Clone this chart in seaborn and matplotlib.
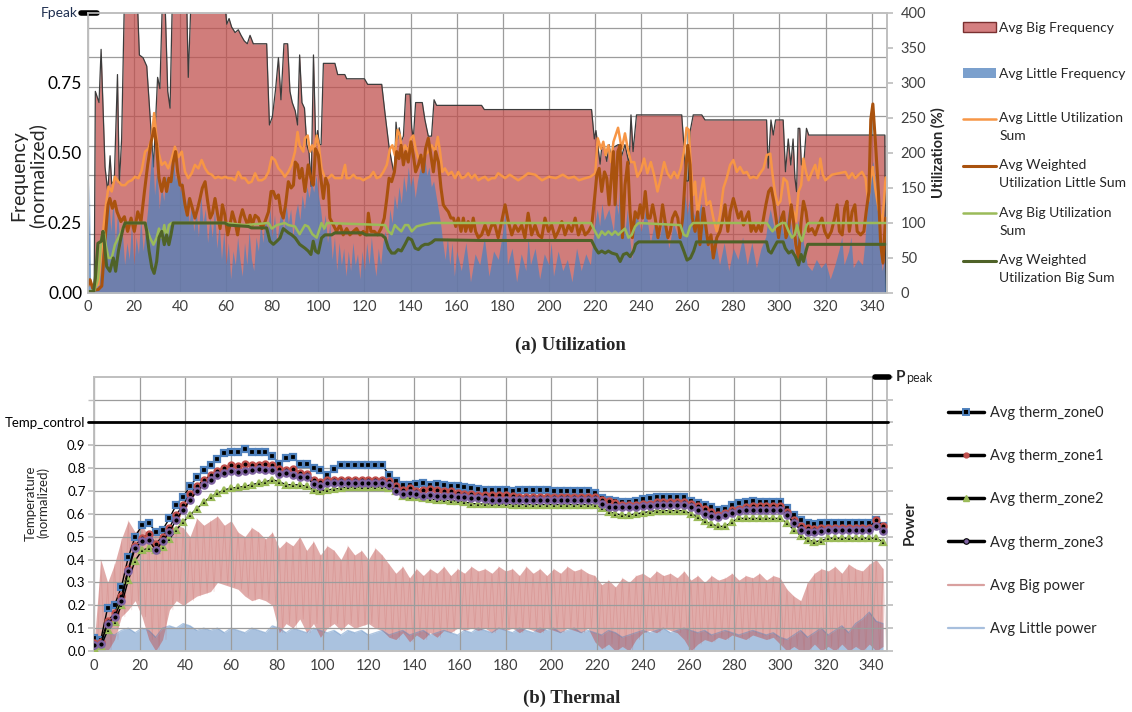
import numpy as np
import matplotlib
matplotlib.use("Agg")
import matplotlib.pyplot as plt
import seaborn as sns
from matplotlib.lines import Line2D
from matplotlib.patches import Patch
from matplotlib.legend_handler import HandlerLine2D

# ---------------------------------------------------------------
# (a) Utilization: frequency areas (left axis) and utilization sums
#     (right axis), sampled at irregular times (s)
# ---------------------------------------------------------------
big_freq_pts = [
    (0, 0), (2.8, 0), (3.3, 0.72), (4.9, 0.68), (5.8, 0.87), (7.5, 0.45), (8.7, 0.36), (9.7, 0.49), (10.4, 0.39), (11.5, 0.40),
    (12.9, 0.78), (13.7, 0.39), (14.7, 0.55), (15.9, 1.05), (21.5, 1.05), (22.4, 0.85), (24, 0.84), (25.6, 0.81), (28.5, 0.45), (30.3, 0.77),
    (31.3, 0.73), (32.4, 1.05), (33.5, 1.05), (34.7, 0.72), (35.7, 0.66), (36.7, 1.05), (42.9, 1.05), (43.6, 0.77), (44.8, 1.05), (59.3, 1.05),
    (60.3, 0.96), (61.3, 0.98), (62.4, 0.95), (63.9, 0.93), (65.3, 0.94), (66.5, 0.92), (67.9, 0.90), (69.2, 0.89), (70.4, 0.92), (71.8, 0.89),
    (77.6, 0.89), (78.8, 0.60), (80.1, 0.63), (81.5, 0.73), (82.7, 0.84), (83.8, 0.69), (85.1, 0.89), (86.7, 0.89), (87.7, 0.72), (88.7, 0.68),
    (90, 0.65), (91, 0.60), (91.9, 0.85), (92.9, 0.68), (94, 0.66), (95, 0.53), (96, 0.50), (96.9, 0.38), (97.9, 0.85), (98.9, 0.53),
    (99.7, 0.58), (100.5, 0.53), (101.2, 0.53), (102.2, 0.82), (107.2, 0.82), (108.4, 0.78), (111.5, 0.78), (112.3, 0.765), (120, 0.765), (121.4, 0.745),
    (127.5, 0.745), (129, 0.636), (130.7, 0.52), (131.8, 0.47), (133, 0.42), (133.7, 0.61), (134.4, 0.55), (135.1, 0.59), (135.9, 0.54), (136.9, 0.56),
    (137.9, 0.71), (139.8, 0.71), (140.5, 0.59), (141.2, 0.55), (142.2, 0.68), (145.1, 0.68), (146.2, 0.62), (147.7, 0.56), (149.1, 0.56), (150.2, 0.69),
    (151.3, 0.67), (170.8, 0.67), (172, 0.655), (218.5, 0.655), (219.7, 0.55), (220.4, 0.58), (221.2, 0.53), (222.2, 0.46), (222.9, 0.52), (223.9, 0.52),
    (225.1, 0.47), (226.1, 0.53), (227, 0.48), (228, 0.52), (230.1, 0.53), (231.6, 0.49), (233, 0.53), (234.8, 0.46), (235.6, 0.636), (236.5, 0.505),
    (238, 0.636), (257.6, 0.636), (258.8, 0.50), (259.5, 0.40), (260.5, 0.40), (261.2, 0.575), (262.6, 0.636), (266.3, 0.636), (267.7, 0.618), (294.4, 0.618),
    (295.1, 0.446), (296.3, 0.618), (297.3, 0.564), (298.3, 0.618), (301.6, 0.618), (302.6, 0.433), (303.8, 0.55), (304.9, 0.457), (305.9, 0.55), (306.7, 0.41),
    (307.4, 0.362), (308.1, 0.588), (308.8, 0.588), (309.5, 0.457), (310.6, 0.47), (311.7, 0.588), (312.7, 0.564), (345.7, 0.564), (346, 0),
]

little_freq_pts = [
    (0, 0), (0.7, 0.40), (1.2, 0.05), (2, 0.02), (4, 0.02), (5, 0.08), (6, 0.15), (7, 0.12), (8, 0.28), (9, 0.35),
    (10, 0.22), (11, 0.33), (12, 0.18), (13, 0.30), (14, 0.15), (15, 0.22), (16, 0.10), (17, 0.18), (18, 0.12), (19, 0.25),
    (20, 0.10), (21, 0.20), (22, 0.14), (23, 0.27), (24, 0.15), (25, 0.22), (26, 0.30), (27, 0.42), (28, 0.52), (29, 0.35),
    (30, 0.45), (31, 0.30), (32, 0.38), (33, 0.33), (34, 0.42), (35, 0.36), (36, 0.45), (37, 0.50), (38, 0.40), (39, 0.44),
    (40, 0.36), (41, 0.40), (42, 0.28), (43, 0.34), (44, 0.25), (45, 0.32), (46, 0.22), (47, 0.30), (48, 0.20), (49, 0.35),
    (50, 0.25), (51, 0.30), (52, 0.18), (53, 0.27), (54, 0.20), (55, 0.30), (56, 0.16), (57, 0.25), (58, 0.12), (59, 0.22),
    (60, 0.10), (61, 0.18), (62, 0.05), (63, 0.15), (64, 0.10), (65, 0.20), (66, 0.12), (67, 0.06), (68, 0.18), (69, 0.10),
    (70, 0.22), (71, 0.12), (72, 0.08), (73, 0.20), (74, 0.15), (75, 0.25), (76, 0.18), (77, 0.28), (78, 0.22), (79, 0.30),
    (80, 0.20), (81, 0.28), (82, 0.18), (83, 0.25), (84, 0.30), (85, 0.22), (86, 0.32), (87, 0.25), (88, 0.30), (89, 0.20),
    (90, 0.28), (91, 0.32), (92, 0.26), (93, 0.35), (94, 0.30), (95, 0.38), (96, 0.34), (97, 0.40), (98, 0.36), (99, 0.42),
    (100, 0.35), (101, 0.30), (102, 0.22), (103, 0.28), (104, 0.18), (105, 0.25), (106, 0.12), (107, 0.20), (108, 0.08), (109, 0.18),
    (110, 0.10), (111, 0.16), (112, 0.06), (113, 0.15), (114, 0.08), (115, 0.18), (116, 0.10), (117, 0.14), (118, 0.05), (119, 0.15),
    (120, 0.08), (121, 0.18), (122, 0.10), (123, 0.20), (124, 0.12), (125, 0.06), (126, 0.16), (127, 0.10), (128, 0.18), (129, 0.22),
    (130, 0.18), (131, 0.30), (132, 0.25), (133, 0.35), (134, 0.30), (135, 0.38), (136, 0.32), (137, 0.42), (138, 0.36), (139, 0.45),
    (140, 0.38), (141, 0.42), (142, 0.34), (143, 0.40), (144, 0.44), (145, 0.46), (146, 0.50), (147, 0.42), (148, 0.45), (149, 0.38),
    (150, 0.40), (151, 0.35), (152, 0.30), (153, 0.25), (154, 0.18), (155, 0.12), (156, 0.20), (157, 0.10), (158, 0.18), (159, 0.06),
    (160, 0.15), (162, 0.08), (164, 0.18), (166, 0.04), (168, 0.14), (170, 0.10), (172, 0.20), (174, 0.06), (176, 0.15), (178, 0.12),
    (180, 0.22), (181, 0.29), (182, 0.10), (184, 0.16), (186, 0.04), (188, 0.14), (190, 0.08), (191, 0.20), (192, 0.10), (194, 0.16),
    (196, 0.05), (198, 0.14), (200, 0.10), (201, 0.18), (202, 0.06), (204, 0.15), (206, 0.08), (208, 0.12), (210, 0.04), (212, 0.16),
    (214, 0.08), (216, 0.14), (218, 0.10), (219, 0.18), (220, 0.25), (221, 0.30), (222, 0.24), (223, 0.32), (224, 0.26), (226, 0.30),
    (228, 0.22), (229, 0.34), (230, 0.28), (231, 0.42), (232, 0.30), (233, 0.22), (234, 0.30), (235, 0.20), (236, 0.12), (237, 0.25),
    (238, 0.28), (240, 0.22), (242, 0.30), (244, 0.18), (246, 0.26), (248, 0.20), (250, 0.28), (252, 0.16), (254, 0.25), (256, 0.20),
    (258, 0.30), (259, 0.35), (260, 0.28), (261, 0.34), (262, 0.30), (264, 0.26), (266, 0.32), (268, 0.22), (270, 0.15), (272, 0.20),
    (274, 0.10), (276, 0.18), (278, 0.08), (280, 0.16), (282, 0.12), (284, 0.20), (286, 0.10), (288, 0.18), (290, 0.09), (292, 0.16),
    (294, 0.20), (295, 0.26), (296, 0.30), (298, 0.22), (300, 0.28), (302, 0.20), (304, 0.30), (306, 0.18), (307, 0.12), (308, 0.26),
    (310, 0.20), (311, 0.15), (312, 0.10), (314, 0.08), (316, 0.12), (318, 0.09), (320, 0.11), (322, 0.05), (324, 0.10), (326, 0.16),
    (327, 0.20), (328, 0.10), (330, 0.15), (331, 0.20), (332, 0.09), (334, 0.12), (336, 0.10), (337, 0.18), (338, 0.30), (339, 0.40),
    (340.5, 0.47), (341.5, 0.42), (342.5, 0.30), (343.5, 0.15), (344.5, 0.08), (345.5, 0.12), (346, 0),
]

little_util_pts = [
    (0, 10), (1, 16), (2.4, 7), (4.6, 12), (7.5, 116), (9, 152), (10.4, 145), (11.8, 166), (13.3, 159), (14.7, 154),
    (16.2, 154), (17.6, 159), (19.1, 161), (20.5, 166), (22, 164), (23.4, 175), (24.9, 202), (26.3, 206), (27.8, 221), (28.8, 257),
    (29.6, 230), (30.6, 202), (32.1, 183), (33.5, 187), (34.9, 178), (36.4, 192), (37.8, 209), (39.3, 194), (40.8, 202), (42.2, 173),
    (43.6, 164), (45.1, 171), (46.5, 183), (48, 178), (49.4, 190), (50.9, 178), (52.3, 171), (53.8, 169), (55.2, 164), (56.6, 166),
    (58.1, 164), (59.5, 166), (61, 164), (62.4, 164), (63.9, 161), (65.3, 173), (66.8, 164), (68.2, 164), (69.7, 157), (71.1, 159),
    (72.6, 171), (74, 161), (75.5, 161), (76.9, 164), (78.4, 173), (79.8, 194), (81.2, 190), (82.7, 178), (84.1, 173), (85.5, 166),
    (87, 173), (88.4, 183), (89.9, 202), (91, 230), (91.9, 211), (93.5, 202), (94.2, 221), (95.4, 225), (96.4, 202), (97.4, 211),
    (98.2, 202), (99.3, 225), (100.2, 211), (101.4, 178), (102.9, 164), (104.3, 164), (105.8, 169), (107.2, 164), (108.7, 164), (110.1, 164),
    (111.6, 183), (112.3, 164), (113.7, 164), (115.2, 169), (116.6, 164), (118.1, 164), (119.5, 161), (121, 164), (122.4, 166), (123.9, 173),
    (125.3, 164), (126.8, 166), (128.2, 173), (129.7, 183), (131.1, 206), (132.1, 211), (133.2, 197), (134.4, 233), (135.4, 225), (136.4, 202),
    (137.6, 211), (139, 202), (140.2, 221), (141.2, 225), (142.2, 206), (143.4, 192), (144.8, 192), (146.2, 197), (147.7, 202), (149.1, 211),
    (150.6, 202), (151.8, 223), (152.8, 202), (153.8, 173), (154.9, 178), (156.4, 169), (157.8, 173), (159.3, 164), (160.7, 173), (162.2, 164),
    (163.6, 166), (165, 171), (166.5, 164), (167.9, 169), (169.4, 161), (170.8, 164), (172.3, 166), (173.7, 161), (175.2, 164), (176.6, 164),
    (178, 171), (181, 164), (183, 169), (186.7, 161), (189, 166), (191, 171), (194, 169), (197, 161), (200, 166), (203, 164),
    (206, 169), (208.5, 164), (211, 166), (213, 161), (215.8, 164), (218, 166), (220.1, 171), (221.2, 221), (222.6, 206), (223.6, 216),
    (224.6, 197), (225.8, 211), (227, 187), (228, 216), (230, 236), (231.6, 206), (233, 228), (234.2, 206), (235.6, 187), (237, 187),
    (238.4, 166), (239.9, 175), (241.3, 192), (242.7, 171), (244.2, 187), (245.6, 169), (247.1, 145), (248.5, 164), (250, 187), (251.4, 171),
    (252.9, 164), (254.3, 173), (255.8, 164), (257.2, 178), (258.6, 202), (259.7, 236), (260.7, 233), (261.6, 178), (262.6, 140), (263.4, 159),
    (264.5, 111), (265.5, 135), (267, 164), (268.4, 126), (269.9, 131), (271.3, 107), (272.8, 88), (274.2, 111), (275.7, 150), (277.1, 164),
    (278.6, 183), (280, 190), (281.5, 173), (282.9, 180), (284.4, 171), (285.8, 173), (287.3, 164), (288.7, 166), (290.2, 164), (291.6, 171),
    (293.1, 178), (294.5, 197), (296, 199), (297, 169), (298.2, 140), (299.3, 126), (300.4, 131), (301.8, 164), (303.3, 159), (304.7, 126),
    (306.1, 116), (307.1, 102), (308.3, 145), (309.4, 154), (310.4, 192), (311.5, 173), (312.6, 161), (314.1, 173), (315.5, 183), (316.7, 164),
    (317.7, 192), (318.8, 169), (319.9, 161), (322.8, 169), (325.7, 171), (328.6, 173), (330, 164), (331.5, 171), (332.9, 164), (334.4, 169),
    (335.8, 173), (337.3, 164), (338.5, 131), (339.5, 164), (340.5, 180), (341.5, 150), (343, 120), (344.5, 100), (345.3, 130), (346, 165),
]

weighted_little_util_pts = [
    (0, 10), (1, 19), (2.4, 4), (4.6, 5), (6.1, 10), (7.6, 79), (8.8, 126), (9.6, 135), (10.7, 121), (11.7, 131),
    (12.7, 116), (13.3, 111), (14.4, 102), (15.9, 109), (17.3, 88), (18.8, 107), (20.2, 88), (21.7, 116), (23.1, 102), (24.6, 145),
    (26, 183), (27.5, 216), (28.8, 235), (29.9, 211), (30.9, 164), (32.1, 145), (33.2, 164), (34.2, 145), (35.2, 164), (36.1, 159),
    (37.1, 187), (38.1, 202), (39, 173), (40, 154), (41, 154), (42.2, 126), (43.2, 111), (44.2, 135), (45.4, 121), (46.5, 107),
    (47.7, 121), (48.7, 135), (49.7, 150), (50.9, 159), (52, 131), (53.1, 107), (54.1, 114), (55.2, 135), (56.4, 111), (57.4, 92),
    (58.4, 126), (59.5, 111), (60.7, 83), (61.7, 97), (62.7, 116), (63.9, 102), (65, 83), (66.1, 107), (67.1, 119), (68.2, 107),
    (69.4, 97), (70.4, 111), (71.4, 97), (72.6, 111), (74, 107), (75.5, 92), (76.9, 102), (78.4, 116), (79.5, 145), (80.5, 145),
    (81.6, 135), (82.7, 140), (83.8, 116), (84.8, 107), (85.8, 126), (87, 159), (88.2, 150), (89.2, 154), (90, 187), (91, 183),
    (91.9, 164), (92.9, 178), (94.2, 145), (95.6, 183), (96.8, 164), (97.8, 154), (98.8, 206), (100, 197), (101.1, 164), (102.2, 135),
    (103.2, 164), (104.3, 154), (105, 107), (106.5, 97), (107.9, 88), (109.4, 97), (110.8, 83), (112.3, 92), (113.7, 83), (115.2, 88),
    (116.6, 92), (118.1, 83), (119.5, 88), (121, 83), (121.7, 114), (122.8, 88), (124.3, 88), (125.7, 83), (127.2, 92), (128.6, 107),
    (129.7, 135), (130.7, 164), (131.8, 159), (133, 173), (134, 202), (135, 192), (135.9, 211), (136.9, 183), (137.9, 202), (139, 187),
    (140.2, 216), (141.2, 197), (142.2, 173), (143.4, 183), (144.5, 197), (145.5, 173), (146.5, 206), (147.7, 221), (148.8, 197), (149.9, 173),
    (150.9, 202), (152.1, 187), (153.2, 150), (154.2, 126), (155.2, 121), (156.4, 116), (157.5, 107), (158.6, 107), (159.6, 95), (160.7, 107),
    (161.9, 88), (162.9, 107), (163.9, 88), (165, 102), (166.2, 88), (167.2, 107), (168.2, 88), (169.4, 79), (170.8, 83), (172.3, 97),
    (173.7, 83), (175.2, 97), (176.6, 97), (178, 79), (179.5, 102), (181, 126), (182.4, 102), (183.9, 83), (185.3, 97), (186.7, 88),
    (188.2, 97), (189.6, 79), (191, 114), (192.5, 83), (194, 97), (195.4, 83), (196.9, 79), (198.3, 107), (199.8, 88), (201.2, 97),
    (202.7, 79), (204.1, 88), (205.6, 102), (207, 83), (208.5, 97), (209.9, 88), (211.4, 107), (212.8, 83), (214.3, 97), (215.7, 83),
    (217.2, 88), (218.6, 97), (219.8, 135), (220.8, 169), (221.8, 178), (222.9, 145), (224.1, 173), (225.1, 164), (226.1, 126), (227.3, 173),
    (228, 202), (228.7, 126), (229.9, 202), (230.9, 211), (231.9, 79), (233, 154), (234.2, 187), (235.2, 116), (236.2, 79), (237.4, 116),
    (238.6, 107), (239.6, 126), (240.6, 107), (241.8, 145), (242.9, 107), (243.9, 107), (245, 126), (246.1, 107), (247.3, 79), (248.3, 97),
    (249.3, 126), (250.4, 102), (251.6, 79), (252.6, 88), (253.6, 107), (254.8, 116), (255.9, 107), (256.9, 79), (258, 107), (259.1, 164),
    (260.2, 211), (261.2, 183), (262.2, 107), (263.4, 88), (264.5, 116), (265.5, 69), (267, 121), (268, 97), (269.1, 69), (270.3, 83),
    (271.3, 50), (272.8, 79), (274.2, 88), (275.2, 102), (276.4, 126), (277.6, 88), (278.6, 116), (280, 135), (281.1, 121), (282.2, 107),
    (283.4, 116), (284.4, 97), (285.4, 107), (286.6, 116), (287.7, 88), (288.7, 97), (289.8, 88), (290.9, 97), (292.1, 88), (293.1, 107),
    (294.1, 126), (295.3, 145), (296.4, 150), (297.5, 131), (298.5, 107), (299.6, 79), (300.8, 107), (301.8, 116), (302.8, 79), (304, 92),
    (305.1, 126), (306.1, 102), (307.1, 69), (308.3, 50), (309.4, 102), (310.4, 131), (311.5, 116), (312.6, 88), (314.1, 92), (315.5, 83),
    (317, 97), (318.4, 107), (319.6, 88), (321, 79), (322.5, 88), (323.9, 107), (325, 126), (326, 88), (327.2, 83), (328.3, 121),
    (329.3, 131), (330.3, 88), (331.5, 116), (332.7, 126), (333.7, 88), (335.2, 83), (336.6, 88), (337.6, 116), (338.8, 145), (339.6, 248),
    (340.5, 270), (341.7, 211), (342.9, 145), (343.9, 69), (344.9, 43), (346, 107),
]

big_util_pts = [
    (0, 2), (3, 4), (4.5, 21), (5.9, 79), (7, 88), (7.8, 69), (9, 50), (10.4, 50), (11.8, 69), (13.3, 79),
    (14.7, 88), (16.2, 100), (24.9, 100), (25.6, 92), (27, 79), (28.5, 69), (29.9, 79), (30.9, 92), (32.1, 79), (33.2, 97),
    (34.2, 79), (35.2, 97), (36.4, 100), (59.5, 100), (68.2, 97), (78.4, 100), (79.8, 92), (82, 97), (85.5, 100), (87, 97),
    (89.9, 95), (91.9, 84), (94.2, 97), (95.6, 95), (97.4, 84), (99.3, 79), (100.2, 88), (101.4, 100), (102.6, 92), (103.7, 100),
    (129, 97), (130.4, 88), (131.8, 84), (133.2, 97), (134.6, 92), (136, 88), (137.6, 97), (139, 97), (140.5, 88), (142.6, 95),
    (144.8, 97), (149.1, 100), (218.2, 100), (219.7, 90), (221.5, 79), (222.9, 88), (224.4, 83), (225.8, 88), (227.3, 83), (228.7, 88),
    (230.1, 83), (231.6, 88), (233, 92), (234.5, 79), (235.9, 83), (237.4, 95), (238.9, 100), (257, 97), (258.5, 83), (259.9, 81),
    (261.2, 95), (262.6, 100), (294.5, 100), (296, 92), (297, 88), (298.5, 95), (301, 100), (302.5, 100), (304, 88), (305.4, 79),
    (306.6, 83), (307.6, 97), (308.6, 83), (309.7, 74), (310.9, 88), (311.8, 97), (312.6, 100), (346, 100),
]

weighted_big_util_pts = [
    (0, 2), (2.5, 2), (3.3, 21), (4.4, 71), (5.9, 74), (6.6, 88), (7.2, 71), (8.2, 38), (9.6, 31), (11.1, 50),
    (12.1, 31), (13.3, 60), (14.4, 79), (15.4, 93), (16.2, 100), (24.9, 100), (25.6, 88), (26.6, 60), (27.8, 36), (28.8, 28),
    (29.9, 45), (30.9, 79), (32.1, 88), (33.2, 69), (34.2, 83), (35.2, 69), (36.1, 83), (37, 100), (59.5, 100), (61, 97),
    (69.7, 95), (71, 93), (77.6, 93), (79, 74), (80.5, 69.5), (82, 74), (83.4, 78.6), (84.8, 92), (87, 86), (88.5, 83),
    (90, 78.6), (91.9, 69.5), (94.2, 64), (95.6, 60), (96.8, 55), (97.8, 74), (98.8, 60), (100, 57), (101.4, 78.6), (102.9, 83),
    (105.8, 83), (107.2, 86), (119, 86), (120.5, 83), (127.5, 83), (129, 78.6), (130.4, 64), (131.8, 57), (133.2, 57), (134.6, 62),
    (136, 60), (137.6, 69.5), (139, 78.6), (140.5, 76), (142, 64), (143.4, 62), (144.8, 67), (146.2, 69.5), (147.7, 69.5), (149.1, 72),
    (150.6, 76), (170.8, 75), (218.5, 75), (220.1, 64), (221.5, 57), (222.9, 60), (224.4, 57), (225.8, 60), (227.3, 57), (229.4, 55),
    (230.9, 45), (232.3, 55), (233.8, 57), (235.2, 52), (236.7, 60), (237.6, 69.5), (238.9, 73), (257, 73), (258.5, 60), (259.9, 47),
    (261.4, 50), (262.8, 60), (264, 73), (294.4, 73), (295.3, 60), (296.4, 57), (297.5, 64), (299, 73), (301.6, 73), (302.5, 64),
    (304, 57), (305.4, 60), (306.9, 52), (308.3, 40), (309.4, 55), (310.4, 45), (311.5, 60), (312.3, 69.5), (346, 69.5),
]

# ---------------------------------------------------------------
# (b) Thermal: normalized zone temperatures and power, every 3 s
# ---------------------------------------------------------------
thermal_t = np.arange(0, 346, 3)

zone0 = [
    0.055, 0.05, 0.19, 0.20, 0.28, 0.41, 0.50, 0.55, 0.56, 0.52,
    0.53, 0.58, 0.64, 0.675, 0.72, 0.76, 0.79, 0.815, 0.838, 0.865,
    0.87, 0.87, 0.885, 0.872, 0.872, 0.872, 0.852, 0.82, 0.843, 0.85,
    0.82, 0.82, 0.80, 0.79, 0.77, 0.795, 0.812, 0.815, 0.815, 0.815,
    0.815, 0.815, 0.815, 0.77, 0.745, 0.728, 0.727, 0.73, 0.733, 0.728,
    0.73, 0.727, 0.72, 0.72, 0.716, 0.712, 0.71, 0.706, 0.705, 0.705,
    0.705, 0.70, 0.705, 0.705, 0.705, 0.705, 0.705, 0.70, 0.70, 0.70,
    0.70, 0.70, 0.70, 0.692, 0.67, 0.66, 0.655, 0.65, 0.652, 0.658,
    0.665, 0.668, 0.675, 0.675, 0.675, 0.675, 0.675, 0.658, 0.648, 0.637,
    0.628, 0.618, 0.62, 0.64, 0.648, 0.653, 0.655, 0.653, 0.653, 0.65,
    0.65, 0.625, 0.595, 0.572, 0.56, 0.557, 0.56, 0.56, 0.56, 0.56,
    0.56, 0.56, 0.56, 0.56, 0.575, 0.545,
]
zone1 = [
    0.034, 0.04, 0.13, 0.165, 0.24, 0.36, 0.46, 0.495, 0.51, 0.47,
    0.50, 0.54, 0.595, 0.64, 0.685, 0.72, 0.75, 0.768, 0.787, 0.80,
    0.812, 0.81, 0.818, 0.815, 0.815, 0.818, 0.815, 0.795, 0.79, 0.798,
    0.78, 0.775, 0.75, 0.74, 0.748, 0.75, 0.75, 0.75, 0.75, 0.75,
    0.75, 0.75, 0.75, 0.743, 0.72, 0.705, 0.712, 0.70, 0.703, 0.71,
    0.705, 0.70, 0.70, 0.69, 0.688, 0.685, 0.684, 0.683, 0.683, 0.683,
    0.683, 0.68, 0.675, 0.675, 0.675, 0.675, 0.675, 0.675, 0.675, 0.675,
    0.675, 0.675, 0.675, 0.675, 0.662, 0.655, 0.648, 0.64, 0.637, 0.638,
    0.642, 0.645, 0.65, 0.653, 0.653, 0.653, 0.653, 0.645, 0.633, 0.62,
    0.61, 0.597, 0.605, 0.617, 0.622, 0.63, 0.635, 0.635, 0.635, 0.635,
    0.635, 0.61, 0.575, 0.548, 0.537, 0.532, 0.537, 0.54, 0.54, 0.54,
    0.54, 0.54, 0.54, 0.54, 0.575, 0.545,
]
zone2 = [
    0.012, 0.02, 0.09, 0.125, 0.20, 0.31, 0.395, 0.44, 0.45, 0.44,
    0.455, 0.49, 0.53, 0.565, 0.595, 0.623, 0.65, 0.675, 0.69, 0.705,
    0.712, 0.716, 0.72, 0.728, 0.734, 0.74, 0.75, 0.74, 0.728, 0.727,
    0.727, 0.72, 0.705, 0.70, 0.705, 0.708, 0.712, 0.717, 0.717, 0.717,
    0.717, 0.717, 0.717, 0.712, 0.70, 0.68, 0.675, 0.672, 0.67, 0.665,
    0.66, 0.66, 0.658, 0.655, 0.652, 0.645, 0.643, 0.643, 0.643, 0.643,
    0.643, 0.64, 0.64, 0.64, 0.64, 0.64, 0.64, 0.64, 0.64, 0.64,
    0.64, 0.64, 0.64, 0.638, 0.625, 0.61, 0.60, 0.595, 0.595, 0.60,
    0.605, 0.61, 0.614, 0.614, 0.614, 0.614, 0.614, 0.60, 0.585, 0.568,
    0.555, 0.545, 0.545, 0.565, 0.58, 0.58, 0.58, 0.58, 0.58, 0.58,
    0.58, 0.56, 0.53, 0.505, 0.486, 0.478, 0.483, 0.493, 0.493, 0.493,
    0.493, 0.493, 0.493, 0.493, 0.493, 0.478,
]
zone3 = [
    0.025, 0.03, 0.12, 0.15, 0.22, 0.35, 0.45, 0.48, 0.485, 0.44,
    0.48, 0.52, 0.575, 0.617, 0.66, 0.70, 0.725, 0.75, 0.77, 0.78,
    0.788, 0.785, 0.787, 0.792, 0.795, 0.792, 0.79, 0.775, 0.777, 0.77,
    0.763, 0.76, 0.73, 0.723, 0.735, 0.733, 0.733, 0.733, 0.733, 0.733,
    0.733, 0.733, 0.733, 0.725, 0.70, 0.685, 0.69, 0.685, 0.68, 0.683,
    0.678, 0.68, 0.678, 0.675, 0.672, 0.67, 0.668, 0.665, 0.66, 0.66,
    0.66, 0.66, 0.66, 0.66, 0.66, 0.66, 0.66, 0.66, 0.66, 0.66,
    0.66, 0.66, 0.66, 0.66, 0.645, 0.63, 0.63, 0.63, 0.63, 0.632,
    0.633, 0.635, 0.638, 0.638, 0.638, 0.638, 0.638, 0.63, 0.615, 0.60,
    0.59, 0.585, 0.595, 0.605, 0.612, 0.617, 0.617, 0.617, 0.617, 0.617,
    0.617, 0.595, 0.56, 0.53, 0.522, 0.52, 0.525, 0.53, 0.53, 0.53,
    0.53, 0.53, 0.53, 0.53, 0.545, 0.525,
]

# power swings quickly: per 3 s window, its peak and the trough 1.5 s later
big_power_peak = [
    0.02, 0.40, 0.30, 0.38, 0.49, 0.57, 0.52, 0.55, 0.50, 0.52,
    0.48, 0.52, 0.55, 0.54, 0.50, 0.58, 0.55, 0.57, 0.59, 0.55,
    0.57, 0.52, 0.50, 0.54, 0.52, 0.49, 0.52, 0.45, 0.48, 0.46,
    0.50, 0.44, 0.48, 0.42, 0.46, 0.44, 0.40, 0.46, 0.42, 0.44,
    0.40, 0.45, 0.42, 0.38, 0.34, 0.37, 0.32, 0.36, 0.33, 0.36,
    0.34, 0.37, 0.33, 0.36, 0.34, 0.37, 0.35, 0.36, 0.34, 0.37,
    0.35, 0.36, 0.33, 0.37, 0.34, 0.36, 0.33, 0.36, 0.34, 0.37,
    0.35, 0.36, 0.34, 0.33, 0.29, 0.31, 0.28, 0.32, 0.30, 0.33,
    0.34, 0.32, 0.35, 0.33, 0.34, 0.32, 0.35, 0.31, 0.33, 0.30,
    0.33, 0.31, 0.32, 0.34, 0.31, 0.33, 0.32, 0.34, 0.31, 0.33,
    0.32, 0.27, 0.24, 0.22, 0.30, 0.34, 0.36, 0.35, 0.37, 0.34,
    0.38, 0.36, 0.35, 0.38, 0.40, 0.36,
]
big_power_trough = [
    0.0, 0.0, 0.0, 0.05, 0.15, 0.18, 0.22, 0.15, 0.05, 0.0,
    0.05, 0.18, 0.22, 0.20, 0.22, 0.24, 0.25, 0.26, 0.30, 0.29,
    0.28, 0.27, 0.24, 0.22, 0.23, 0.22, 0.20, 0.08, 0.12, 0.10,
    0.14, 0.08, 0.12, 0.06, 0.10, 0.12, 0.09, 0.12, 0.10, 0.11,
    0.12, 0.10, 0.09, 0.06, 0.05, 0.08, 0.04, 0.07, 0.05, 0.08,
    0.06, 0.09, 0.08, 0.10, 0.09, 0.10, 0.09, 0.10, 0.08, 0.10,
    0.09, 0.10, 0.08, 0.10, 0.09, 0.08, 0.10, 0.09, 0.08, 0.10,
    0.09, 0.08, 0.10, 0.04, 0.01, 0.03, 0.0, 0.02, 0.0, 0.05,
    0.08, 0.09, 0.08, 0.10, 0.09, 0.08, 0.05, 0.0, 0.03, 0.05,
    0.04, 0.06, 0.05, 0.07, 0.06, 0.05, 0.07, 0.06, 0.05, 0.06,
    0.03, 0.0, 0.02, 0.0, 0.0, 0.03, 0.0, 0.02, 0.0, 0.03,
    0.0, 0.02, 0.0, 0.03, 0.0, 0.02,
]
little_power_peak = [
    0.02, 0.04, 0.08, 0.07, 0.09, 0.10, 0.08, 0.10, 0.09, 0.06,
    0.10, 0.11, 0.10, 0.12, 0.11, 0.09, 0.10, 0.09, 0.10, 0.08,
    0.10, 0.09, 0.08, 0.10, 0.09, 0.08, 0.11, 0.10, 0.08, 0.10,
    0.09, 0.08, 0.10, 0.09, 0.08, 0.09, 0.07, 0.09, 0.08, 0.09,
    0.07, 0.08, 0.09, 0.07, 0.08, 0.09, 0.07, 0.08, 0.09, 0.07,
    0.08, 0.09, 0.08, 0.07, 0.09, 0.08, 0.10, 0.09, 0.08, 0.10,
    0.09, 0.08, 0.10, 0.09, 0.08, 0.10, 0.09, 0.10, 0.08, 0.09,
    0.10, 0.08, 0.09, 0.08, 0.07, 0.09, 0.08, 0.06, 0.07, 0.08,
    0.09, 0.08, 0.09, 0.10, 0.08, 0.09, 0.10, 0.09, 0.08, 0.09,
    0.07, 0.08, 0.09, 0.08, 0.07, 0.08, 0.09, 0.08, 0.07, 0.08,
    0.06, 0.05, 0.07, 0.09, 0.06, 0.08, 0.10, 0.07, 0.09, 0.11,
    0.08, 0.12, 0.14, 0.17, 0.13, 0.12,
]

x_ticks = list(range(0, 341, 20))
freq_ticks = [0, 0.25, 0.5, 0.75]
util_ticks = list(range(0, 401, 50))
temp_ticks = [0.0, 0.1, 0.2, 0.3, 0.4, 0.5, 0.6, 0.7, 0.8, 0.9, 1.0]
temp_labels = ["0.0", "0.1", "0.2", "0.3", "0.4", "0.5", "0.6", "0.7", "0.8", "0.9", "Temp_control"]

# ---------------------------------------------------------------
# style
# ---------------------------------------------------------------
sns.set_theme(style="white")
plt.rcParams["font.family"] = ["Lato", "DejaVu Sans"]

RED = "#C0504D"
BLUE = "#4F81BD"
ORANGE = "#F79646"
BROWN = "#A9520E"
LGREEN = "#9BBB59"
DGREEN = "#4F6228"
PURPLE = "#8064A2"
GRID = "#9C9C9C"
FRAME = "#BFBFBF"
TICK = "#404040"


def split(pts):
    t, v = zip(*pts)
    return np.asarray(t, float), np.asarray(v, float)


class FirstLineHandler(HandlerLine2D):
    """Legend line drawn level with the first line of a two-line label."""

    def create_artists(self, legend, orig_handle, xdescent, ydescent, width,
                       height, fontsize, trans):
        artists = super().create_artists(legend, orig_handle, xdescent, ydescent,
                                         width, height, fontsize, trans)
        for art in artists:
            art.set_ydata(np.asarray(art.get_ydata(), float) + 0.62 * fontsize)
        return artists


fig = plt.figure(figsize=(11.32, 7.12), dpi=100)

# ============================ (a) ============================
ax1 = fig.add_axes([0.0775, 0.5885, 0.7058, 0.3933])
ax1r = ax1.twinx()

bt, bv = split(big_freq_pts)
lt, lv = split(little_freq_pts)
ax1.fill_between(bt, bv, color=RED, alpha=0.74, lw=0, zorder=2)
sns.lineplot(x=bt, y=bv, ax=ax1, color="#3C3C3C", lw=0.9, estimator=None, zorder=3)
ax1.fill_between(lt, lv, color=BLUE, alpha=0.75, lw=0, zorder=4)

series_a = [
    (little_util_pts, ORANGE, 1.8),
    (weighted_little_util_pts, BROWN, 2.2),
    (big_util_pts, LGREEN, 1.8),
    (weighted_big_util_pts, DGREEN, 2.2),
]
for pts, col, lw in series_a:
    t, v = split(pts)
    sns.lineplot(x=t, y=v, ax=ax1r, color=col, lw=lw, estimator=None)

ax1.set_xlim(0, 346.5)
ax1.set_ylim(0, 1.0)
ax1r.set_ylim(0, 400)
ax1.set_xticks(x_ticks)
ax1.set_yticks(freq_ticks)
ax1.set_yticklabels([f"{v:.2f}" for v in freq_ticks])
ax1.set_yticks([k * 0.1052 for k in range(1, 10)], minor=True)
ax1.grid(False)
ax1.grid(True, which="minor", axis="y", color=GRID, lw=0.9)
ax1.grid(True, which="major", axis="x", color=GRID, lw=0.9)
ax1.set_axisbelow(True)
ax1.tick_params(axis="y", which="both", length=0, labelsize=12.5, labelcolor="black", pad=4)
ax1.tick_params(axis="x", length=0, labelsize=10.5, labelcolor=TICK, pad=5)
ax1r.set_yticks(util_ticks)
ax1r.tick_params(axis="y", length=4, color=FRAME, labelsize=10.5, labelcolor=TICK, pad=6)
ax1r.grid(False)
for a in (ax1, ax1r):
    for s in a.spines.values():
        s.set_color(FRAME)
        s.set_linewidth(1.2)
ax1.set_xlabel("")
ax1.set_ylabel("Frequency\n(normalized)", fontsize=14, linespacing=1.05)
ax1.yaxis.set_label_coords(-0.052, 0.42)
ax1r.set_ylabel("Utilization (%)", fontsize=10.5, fontweight="bold")
ax1r.yaxis.set_label_coords(1.056, 0.5)

ax1.text(-0.013, 1.0, "Fpeak", transform=ax1.transAxes, ha="right", va="center",
         fontsize=10, color="#1F2F50")
ax1.plot([-0.009, 0.011], [1.0, 1.0], transform=ax1.transAxes, color="black",
         lw=4, solid_capstyle="round", clip_on=False, zorder=10)

legend_patches = [
    Patch(facecolor=(0.831, 0.498, 0.502), edgecolor="#7A3030", lw=1.0),
    Patch(facecolor=(0.482, 0.627, 0.804), edgecolor="none"),
]
fig.legend(legend_patches, ["Avg Big Frequency", "Avg Little Frequency"],
           loc="upper left", bbox_to_anchor=(963 / 1132, 1 - 22 / 712),
           frameon=False, fontsize=10, labelspacing=2.45, handlelength=2.35,
           handleheight=0.75, handletextpad=0.25, borderpad=0, borderaxespad=0)
legend_lines = [Line2D([], [], color=c, lw=lw) for _, c, lw in series_a]
leg2 = fig.legend(legend_lines,
                  ["Avg Little Utilization\nSum", "Avg Weighted\nUtilization Little Sum",
                   "Avg Big Utilization\nSum", "Avg Weighted\nUtilization Big Sum"],
                  loc="upper left", bbox_to_anchor=(963 / 1132, 1 - 112 / 712),
                  frameon=False, fontsize=10, labelspacing=1.25, handlelength=2.35,
                  handletextpad=0.25, borderpad=0, borderaxespad=0,
                  handler_map={Line2D: FirstLineHandler()})
for txt in leg2.get_texts():
    txt.set_linespacing(1.6)

fig.text(0.5035, 1 - 345 / 712, "(a) Utilization", ha="center", va="center",
         family="Liberation Serif", fontweight="bold", fontsize=13.5)

# ============================ (b) ============================
ax2 = fig.add_axes([0.0830, 0.0857, 0.7003, 0.3852])
ax2r = ax2.twinx()
ax2.set_zorder(ax2r.get_zorder() + 1)
ax2.patch.set_visible(False)

pk = np.asarray(big_power_peak)
tr = np.asarray(big_power_trough)
zig_t = np.column_stack([thermal_t, thermal_t + 1.5]).ravel()
zig_v = np.column_stack([pk, tr]).ravel()
ax2r.fill_between(thermal_t, little_power_peak, color=BLUE, alpha=0.48, lw=0)
sns.lineplot(x=thermal_t, y=little_power_peak, ax=ax2r, color=BLUE, alpha=0.45, lw=0.9, estimator=None)
ax2r.fill_between(thermal_t, tr, pk, color=RED, alpha=0.48, lw=0)
sns.lineplot(x=zig_t, y=zig_v, ax=ax2r, color=RED, alpha=0.18, lw=0.6, estimator=None)

zones = [
    (zone0, "s", BLUE, 4.6),
    (zone1, "o", RED, 4.4),
    (zone2, "^", LGREEN, 4.6),
    (zone3, "o", PURPLE, 4.6),
]
for vals, mk, col, ms in zones:
    sns.lineplot(x=thermal_t, y=vals, ax=ax2, color="black", lw=1.0, estimator=None,
                 marker=mk, ms=ms, mfc="black", mec=col, mew=1.6, zorder=4)

ax2.axhline(1.0, xmin=-0.008, xmax=1.002, color="black", lw=2, clip_on=False, zorder=5)

ax2.set_xlim(0, 346.6)
ax2.set_ylim(0, 1.2)
ax2r.set_ylim(0, 1.2)
ax2.set_xticks(x_ticks)
ax2.set_yticks(temp_ticks)
ax2.set_yticklabels(temp_labels)
ax2.set_yticks([1.1], minor=True)
ax2.grid(False)
ax2.grid(True, which="both", axis="y", color=GRID, lw=0.9)
ax2.grid(True, which="major", axis="x", color=GRID, lw=0.9)
ax2.set_axisbelow(True)
ax2.tick_params(axis="y", which="both", length=4, color=FRAME, labelsize=9.5,
                labelcolor="black", pad=2)
ax2.tick_params(axis="x", length=0, labelsize=10.5, labelcolor=TICK, pad=6)
ax2r.set_yticks([k / 10 for k in range(13)])
ax2r.set_yticklabels([])
ax2r.tick_params(axis="y", length=4, color=FRAME)
ax2r.grid(False)
for a in (ax2, ax2r):
    for s in a.spines.values():
        s.set_color(FRAME)
        s.set_linewidth(1.2)
ax2.set_xlabel("")
ax2.set_ylabel("Temperature\n(normalized)", fontsize=9.5, linespacing=1.0)
ax2.yaxis.set_label_coords(-0.056, 0.54)
ax2r.set_ylabel("Power", fontsize=11, fontweight="bold")
ax2r.yaxis.set_label_coords(1.02, 0.467)

ax2.plot([0.985, 1.003], [1.0, 1.0], transform=ax2.transAxes, color="black",
         lw=4, solid_capstyle="round", clip_on=False, zorder=10)
ax2.text(1.012, 1.0, "P", transform=ax2.transAxes, ha="left", va="center",
         fontsize=11, fontweight="bold")
ax2.text(1.025, 0.995, "peak", transform=ax2.transAxes, ha="left", va="center",
         fontsize=9)

legend_zones = [
    Line2D([], [], color="black", lw=2.5, marker="s", ms=5, mfc="black", mec=BLUE, mew=1.4),
    Line2D([], [], color="black", lw=2.5, marker="o", ms=3.5, mfc=RED, mec=RED),
    Line2D([], [], color="black", lw=2.5, marker="^", ms=5, mfc=LGREEN, mec=LGREEN),
    Line2D([], [], color="black", lw=2.5, marker="o", ms=4, mfc=PURPLE, mec="black", mew=0.8),
    Line2D([], [], color="#D9A09F", lw=1.6),
    Line2D([], [], color="#A7BFDD", lw=1.6),
]
fig.legend(legend_zones,
           ["Avg therm_zone0", "Avg therm_zone1", "Avg therm_zone2", "Avg therm_zone3",
            "Avg Big power", "Avg Little power"],
           loc="upper left", bbox_to_anchor=(948 / 1132, 1 - 406 / 712),
           frameon=False, fontsize=10.5, labelspacing=2.0, handlelength=2.5,
           handletextpad=0.35, borderpad=0, borderaxespad=0)

fig.text(0.505, 1 - 698 / 712, "(b) Thermal", ha="center", va="center",
         family="Liberation Serif", fontweight="bold", fontsize=13.5)

fig.savefig("out.png", dpi=100)
